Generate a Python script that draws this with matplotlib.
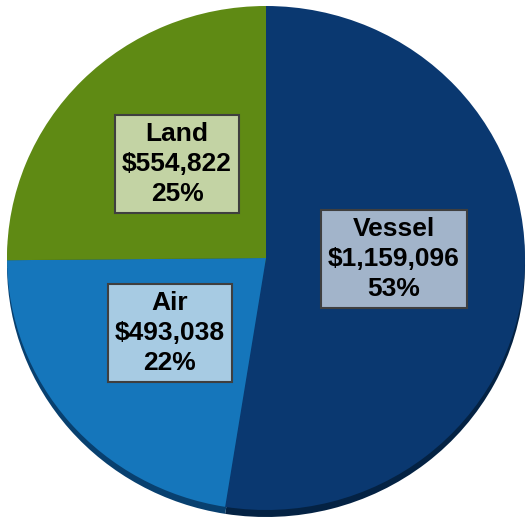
import matplotlib
matplotlib.use("Agg")
import matplotlib.pyplot as plt

# Spend by transport mode
modes = ["Vessel", "Air", "Land"]
amounts = [1159096, 493038, 554822]
shares = [53, 22, 25]

wedge_colors = ["#0a3870", "#1576bb", "#5f8a14"]
side_colors = ["#042243", "#08406f", "#3f5d0c"]
box_colors = ["#a2b4ca", "#a7cbe3", "#c3d3a4"]
# label box centres in pixel space (x, y from top)
label_pos = [(394, 259), (170, 333), (177, 164)]

W, H = 528, 520
fig = plt.figure(figsize=(W / 100, H / 100), dpi=100)

# slightly tilted pie: elliptical face plus a thin darker rim underneath
cx, cy, rx, ry, depth = 266, 258, 259, 252, 7


def pie_axes(yoff):
    a = fig.add_axes([(cx - rx) / W, (H - cy - ry - yoff) / H, 2 * rx / W, 2 * ry / H])
    return a


ax_side = pie_axes(depth)
ax_side.pie(amounts, colors=side_colors, startangle=90, counterclock=False,
            radius=1, wedgeprops=dict(linewidth=0))
ax_face = pie_axes(0)
ax_face.pie(amounts, colors=wedge_colors, startangle=90, counterclock=False,
            radius=1, wedgeprops=dict(linewidth=0))
for a in (ax_side, ax_face):
    a.set_aspect("auto")
    a.set_xlim(-1, 1)
    a.set_ylim(-1, 1)
    a.axis("off")

ax = fig.add_axes([0, 0, 1, 1])
ax.set_xlim(0, W)
ax.set_ylim(0, H)
ax.axis("off")

for mode, amt, pct, fc, (lx, ly) in zip(modes, amounts, shares, box_colors, label_pos):
    ax.text(lx, H - ly, f"{mode}\n${amt:,}\n{pct}%", ha="center", va="center",
            fontsize=19, fontweight="bold", family="Liberation Sans",
            linespacing=1.3, color="black",
            bbox=dict(boxstyle="square,pad=0.26", fc=fc, ec="#3f3f3f", lw=1.5))

fig.savefig("out.png", dpi=100)
